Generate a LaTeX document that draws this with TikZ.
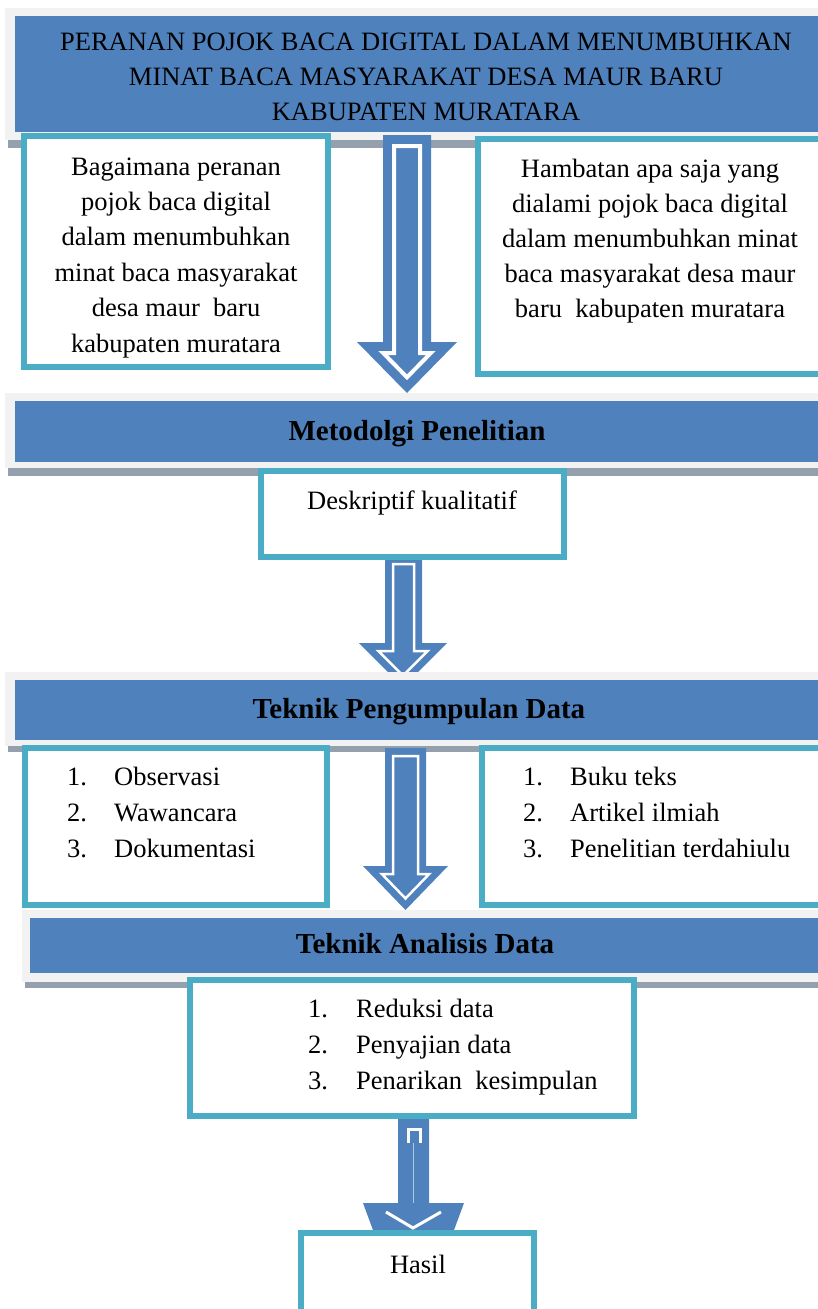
\documentclass[tikz,border=0pt]{standalone}
\usepackage{fontspec}
\setmainfont{Liberation Serif}
\definecolor{barblue}{RGB}{79,129,189}
\definecolor{boxcyan}{RGB}{75,172,198}
\definecolor{bggrey}{RGB}{242,242,242}
\definecolor{shadowgrey}{RGB}{149,160,174}
\tikzset{
  greybg/.style={fill=bggrey, draw=none},
  bluebar/.style={fill=barblue, draw=none},
  shadowbar/.style={fill=shadowgrey, draw=none},
  cbox/.style={draw=boxcyan, line width=6pt, fill=white, inner sep=0pt, outer sep=0pt, anchor=north west},
  txt/.style={font=\fontsize{26.5}{35}\selectfont, inner sep=0pt, anchor=base},
  ltxt/.style={font=\fontsize{26.5}{35}\selectfont, inner sep=0pt, anchor=base west},
  headtxt/.style={font=\fontsize{29}{35}\selectfont\bfseries, inner sep=0pt, anchor=base},
}
% solid block arrow: x1,x2,ytop,yhead,xh1,xh2,ytip
\newcommand{\blockarrow}[7]{%
  \fill[barblue] (#1,#3) -- (#2,#3) -- (#2,#4) -- (#6,#4) -- ({(#5+#6)/2},#7) -- (#5,#4) -- (#1,#4) -- cycle;}
% white inset outline: same 7 args + inset + line width
\newcommand{\insetline}[9]{%
  \pgfmathsetmacro\arHW{(#6-#5)/2}%
  \pgfmathsetmacro\arHH{#7-#4}%
  \pgfmathsetmacro\arL{sqrt(\arHW*\arHW+\arHH*\arHH)}%
  \pgfmathsetmacro\arXC{(#5+#6)/2}%
  \pgfmathsetmacro\arOff{#8*\arHH/\arL + \arHW*#8*(1+\arHW/\arL)/\arHH}%
  \pgfmathsetmacro\arXL{#5+\arOff}%
  \pgfmathsetmacro\arXR{#6-\arOff}%
  \pgfmathsetmacro\arYT{#7-#8*\arL/\arHW}%
  \draw[white, line width=#9, line join=miter]
    ({#1+#8},{#3+#8}) -- ({#2-#8},{#3+#8}) -- ({#2-#8},{#4+#8}) -- (\arXR,{#4+#8})
    -- (\arXC,\arYT) -- (\arXL,{#4+#8}) -- ({#1+#8},{#4+#8}) -- cycle;}
\begin{document}
\begin{tikzpicture}[x=1pt,y=-1pt]
\useasboundingbox (0,0) rectangle (818,1309);

% ---------- Banner 1 ----------
\fill[greybg] (5,8) rectangle (818,140);
\fill[bluebar] (15,16) rectangle (818,132);
\fill[shadowbar] (8,140) rectangle (818,148);
\node[txt] (t1) at (426,50) {PERANAN POJOK BACA DIGITAL DALAM MENUMBUHKAN};
\node[txt] (t2) at (426,85) {MINAT BACA MASYARAKAT DESA MAUR BARU};
\node[txt] (t3) at (426,120) {KABUPATEN MURATARA};

% ---------- Question boxes ----------
\node[cbox, minimum width=304pt, minimum height=231pt] (q1) at (24,136) {};
\node[cbox, minimum width=349pt, minimum height=235pt] (q2) at (478,139) {};
\foreach \l [count=\i] in {Bagaimana peranan,pojok baca digital,dalam menumbuhkan,minat baca masyarakat,desa maur\ \ baru,kabupaten muratara}
  \node[txt] (qa\i) at (176,{175+35.4*(\i-1)}) {\l};
\foreach \l [count=\i] in {Hambatan apa saja yang,dialami pojok baca digital,dalam menumbuhkan minat,baca masyarakat desa maur,baru\ \ kabupaten muratara}
  \node[txt] (qb\i) at (650,{177+35*(\i-1)}) {\l};

% ---------- Arrow 1 ----------
\blockarrow{383}{431}{135}{342}{357}{457}{393}
\insetline{383}{431}{135}{342}{357}{457}{393}{11}{4pt}

% ---------- Banner 2 ----------
\fill[greybg] (5,393) rectangle (818,468);
\fill[bluebar] (15,401) rectangle (818,462);
\fill[shadowbar] (8,468) rectangle (818,476);
\node[headtxt] (h2) at (417,440) {Metodolgi Penelitian};

% ---------- Arrow 2 ----------
\blockarrow{385}{422}{556}{643}{359}{447}{687}
\insetline{385}{422}{556}{643}{359}{447}{687}{8}{2.5pt}

% ---------- Box Deskriptif ----------
\node[cbox, minimum width=303pt, minimum height=86pt] (d) at (261,471) {};
\node[txt] (dt) at (412,509) {Deskriptif kualitatif};

% ---------- Banner 3 ----------
\fill[greybg] (5,672) rectangle (818,746);
\fill[bluebar] (15,680) rectangle (818,740);
\fill[shadowbar] (8,746) rectangle (818,752);
\node[headtxt] (h3) at (419,718) {Teknik Pengumpulan Data};

% ---------- Arrow 3 ----------
\blockarrow{385}{426}{748}{866}{363}{448}{910}
\insetline{385}{426}{748}{866}{363}{448}{910}{8}{2.5pt}

% ---------- List boxes ----------
\node[cbox, minimum width=302pt, minimum height=157pt] (l3) at (25,748) {};
\node[cbox, minimum width=345pt, minimum height=157pt] (r3) at (482,748) {};
\foreach \l [count=\i] in {Observasi,Wawancara,Dokumentasi}{
  \node[ltxt] (la\i) at (67,{785+36*(\i-1)}) {\i.};
  \node[ltxt] (lb\i) at (114,{785+36*(\i-1)}) {\l};}
\foreach \l [count=\i] in {Buku teks,Artikel ilmiah,Penelitian terdahiulu}{
  \node[ltxt] (ra\i) at (523,{785+36*(\i-1)}) {\i.};
  \node[ltxt] (rb\i) at (570,{785+36*(\i-1)}) {\l};}

% ---------- Banner 4 ----------
\fill[greybg] (22,910) rectangle (818,982);
\fill[bluebar] (30,918) rectangle (818,973);
\fill[shadowbar] (25,982) rectangle (818,988);
\node[headtxt] (h4) at (425,953) {Teknik Analisis Data};

% ---------- Arrow 4 ----------
\blockarrow{398}{429}{1115}{1203}{363}{464}{1340}
\draw[white, line width=3pt] (408,1143) -- (408,1129) -- (420,1129) -- (420,1143);
\draw[white!55!barblue, line width=1pt] (413,1143) -- (413,1203);
\draw[white, line width=3pt, line join=miter] (386,1212) -- (413,1228) -- (441,1212);

% ---------- Analysis box ----------
\node[cbox, minimum width=444pt, minimum height=136pt] (a4) at (190,980) {};
\foreach \l [count=\i] in {Reduksi data,Penyajian data,Penarikan\ \ kesimpulan}{
  \node[ltxt] (aa\i) at (308,{1017+36*(\i-1)}) {\i.};
  \node[ltxt] (ab\i) at (356,{1017+36*(\i-1)}) {\l};}

% ---------- Hasil ----------
\node[cbox, minimum width=233pt, minimum height=84pt] (h) at (301,1233) {};
\node[txt] (ht) at (418,1273) {Hasil};
\end{tikzpicture}
\end{document}
